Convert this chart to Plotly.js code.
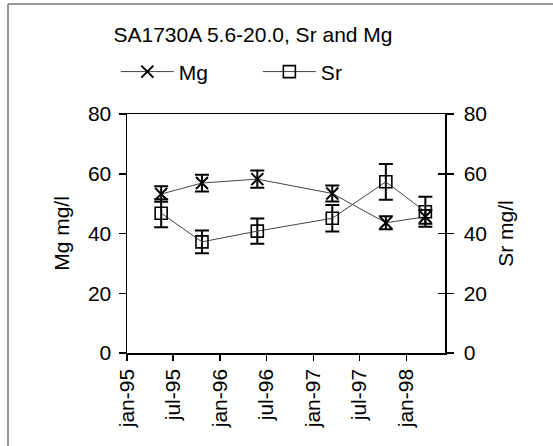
<!DOCTYPE html>
<html>
<head>
<meta charset="utf-8">
<script src="https://cdn.plot.ly/plotly-3.0.1.min.js"></script>
<style>
html,body{margin:0;padding:0;background:#fff;}
#chart{width:553px;height:446px;}
</style>
</head>
<body>
<div id="chart"></div>
<script>
// ---- data ----
const dates = ["1995-05-15", "1995-10-22", "1996-05-26", "1997-03-16", "1997-10-12", "1998-03-16"];
const mgValues = [53.2, 56.9, 58.2, 53.4, 43.6, 45.6];
const mgErrors = [2.6, 2.8, 2.9, 2.7, 2.2, 2.3];
const srValues = [46.8, 37.2, 40.8, 45.1, 57.3, 47.3];
const srErrors = [4.7, 3.8, 4.2, 4.4, 6.0, 5.0];
const tickDates = ["1995-01-01", "1995-07-01", "1996-01-01", "1996-07-01", "1997-01-01", "1997-07-01", "1998-01-01"];
const tickLabels = ["jan-95", "jul-95", "jan-96", "jul-96", "jan-97", "jul-97", "jan-98"];
const yTicks = [0, 20, 40, 60, 80];
const chartTitle = "SA1730A 5.6-20.0, Sr and Mg";

const FONT = "Liberation Sans, Arial, sans-serif";
const FS = 21;

const traces = [
  {
    x: dates, y: mgValues, name: "Mg", type: "scatter", mode: "lines+markers",
    line: {color: "#444", width: 1},
    marker: {symbol: "x-thin-open", size: 12, color: "#000", line: {color: "#000", width: 2}},
    error_y: {type: "data", array: mgErrors, visible: true, color: "#000", thickness: 2, width: 7}
  },
  {
    x: dates, y: srValues, name: "Sr", type: "scatter", mode: "lines+markers", yaxis: "y2",
    line: {color: "#444", width: 1},
    marker: {symbol: "square-open", size: 12, color: "#000", line: {color: "#000", width: 1.6}},
    error_y: {type: "data", array: srErrors, visible: true, color: "#000", thickness: 2, width: 7}
  },
  // invisible helper trace so the crossing-tick overlay axis is drawn
  {x: dates, y: srValues, yaxis: "y3", type: "scatter", mode: "none", showlegend: false, hoverinfo: "skip"}
];

const layout = {
  width: 553, height: 446,
  margin: {l: 127, r: 108, t: 114, b: 93},
  paper_bgcolor: "#fff", plot_bgcolor: "#fff",
  font: {family: FONT, size: FS, color: "#000"},
  showlegend: true,
  title: {
    text: chartTitle, font: {family: FONT, size: FS, color: "#000"},
    xref: "container", x: 253/553, xanchor: "center",
    yref: "container", y: 1 - 35/446, yanchor: "middle"
  },
  legend: {
    orientation: "h", x: -0.035, xanchor: "left", y: 1.176, yanchor: "middle",
    font: {family: FONT, size: FS, color: "#000"},
    itemwidth: 53,
    entrywidth: 74, entrywidthmode: "pixels", bgcolor: "rgba(0,0,0,0)"
  },
  xaxis: {
    type: "date", range: ["1995-01-01", "1998-06-01"],
    tickvals: tickDates, ticktext: tickLabels, tickangle: -90,
    ticks: "outside", ticklen: 6, tickwidth: 1.5, tickcolor: "#000",
    showline: true, linecolor: "#000", linewidth: 1.5, mirror: true,
    showgrid: false, zeroline: false,
    tickfont: {family: FONT, size: FS, color: "#000"}
  },
  yaxis: {
    range: [0, 80], tickvals: yTicks,
    ticks: "outside", ticklen: 7, tickwidth: 1.5, tickcolor: "#000",
    showline: true, linecolor: "#000", linewidth: 1.5,
    showgrid: false, zeroline: false, ticklabelstandoff: 3,
    tickfont: {family: FONT, size: FS, color: "#000"},
    title: {text: "Mg mg/l", font: {family: FONT, size: FS, color: "#000"}, standoff: 12}
  },
  yaxis2: {
    range: [0, 80], tickvals: yTicks, overlaying: "y", side: "right",
    ticks: "outside", ticklen: 7, tickwidth: 1.5, tickcolor: "#000",
    showline: true, linecolor: "#000", linewidth: 1.5,
    showgrid: false, zeroline: false, ticklabelstandoff: 6,
    tickfont: {family: FONT, size: FS, color: "#000"},
    title: {text: "Sr mg/l", font: {family: FONT, size: FS, color: "#000"}, standoff: 12}
  },
  yaxis3: {
    range: [0, 80], tickvals: yTicks, overlaying: "y", side: "right",
    ticks: "inside", ticklen: 7, tickwidth: 1.5, tickcolor: "#000",
    showticklabels: false, showline: false, showgrid: false, zeroline: false
  },
  shapes: [
    {type: "line", xref: "paper", yref: "paper", x0: (8-127)/318, x1: 1.5, y0: (353-4)/239, y1: (353-4)/239,
     line: {color: "#777", width: 1.5}},
    {type: "line", xref: "paper", yref: "paper", x0: (8-127)/318, x1: (8-127)/318, y0: (353-4)/239, y1: -0.5,
     line: {color: "#777", width: 1.5}}
  ]
};

Plotly.newPlot("chart", traces, layout, {displayModeBar: false, staticPlot: true});
</script>
</body>
</html>
